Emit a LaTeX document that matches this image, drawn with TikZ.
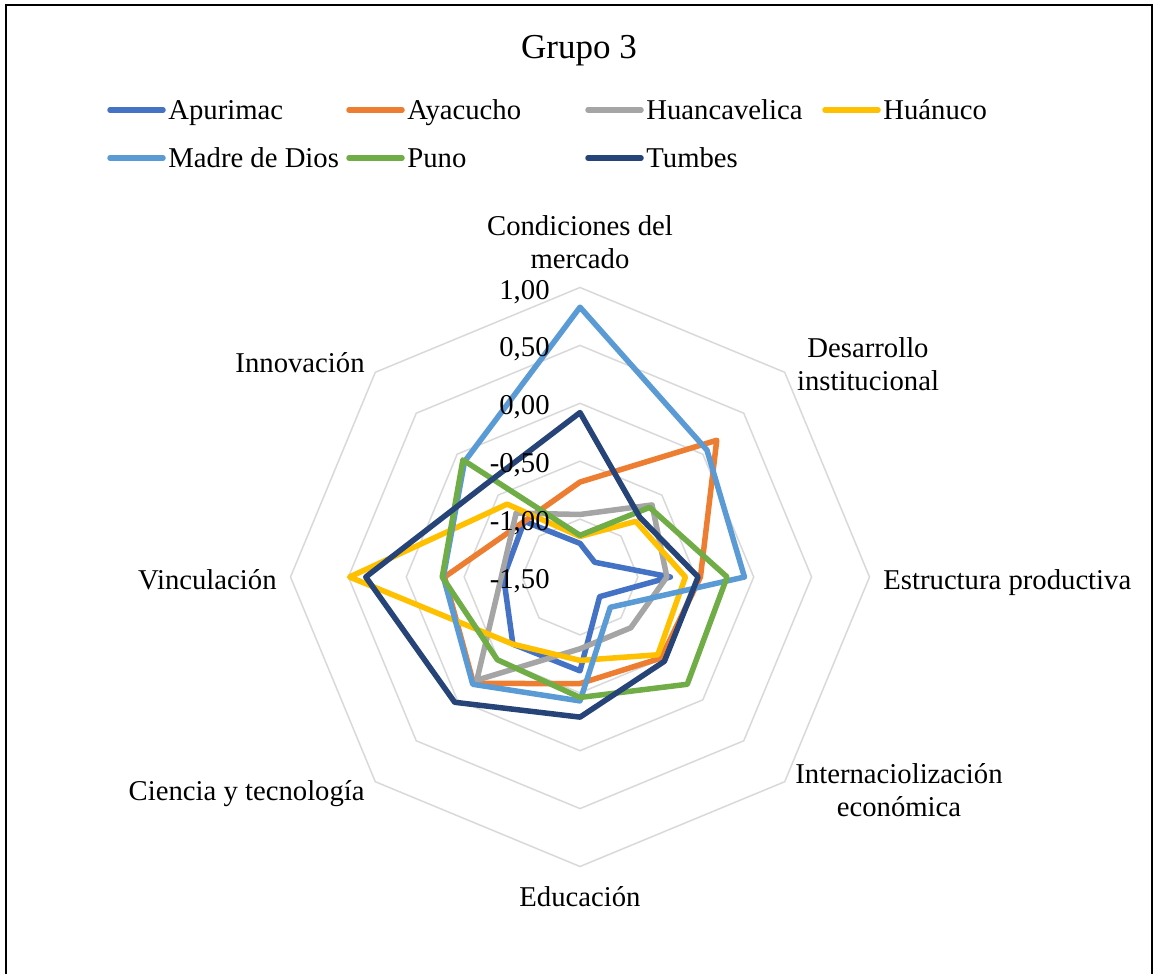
\documentclass[tikz,border=0pt]{standalone}
\usepackage{fontspec}
\setmainfont{Liberation Serif}
\definecolor{cApu}{HTML}{4472C4}
\definecolor{cAya}{HTML}{ED7D31}
\definecolor{cHua}{HTML}{A5A5A5}
\definecolor{cHuc}{HTML}{FFC000}
\definecolor{cMdd}{HTML}{5B9BD5}
\definecolor{cPun}{HTML}{70AD47}
\definecolor{cTum}{HTML}{264478}
\definecolor{cRing}{HTML}{D9D9D9}
\tikzset{
  frame/.style={draw=black, line width=1pt},
  ringline/.style={draw=cRing, line width=0.75pt},
  serie/.style={line width=2.75pt, line join=round, line cap=round},
  legline/.style={line width=2.75pt, line cap=round},
  legtxt/.style={anchor=base west, inner sep=0pt, font=\fontsize{14.35}{16.5}\selectfont},
  lbl/.style={inner sep=0pt, font=\fontsize{14.35}{16.5}\selectfont},
  ticklbl/.style={anchor=base east, inner sep=0pt, font=\fontsize{14.35}{16.5}\selectfont},
  titletxt/.style={anchor=base, inner sep=0pt, font=\fontsize{17.5}{20}\selectfont}
}
\begin{document}
\begin{tikzpicture}[x=0.5pt, y=-0.5pt, declare function={rr(\v)=(\v+1.5)*115.8;}]
\useasboundingbox (0,0) rectangle (1155,974);
\fill[white] (0,0) rectangle (1155,974);
% frame
\draw[frame] (6,974) -- (6,5) -- (1152,5) -- (1152,974);
% title
\node[titletxt] (title) at (579,59) {Grupo 3};
% legend
\coordinate (la1) at (110,110); \coordinate (lb1) at (163,110);
\coordinate (la2) at (349,110); \coordinate (lb2) at (402,110);
\coordinate (la3) at (588,110); \coordinate (lb3) at (641,110);
\coordinate (la4) at (825,110); \coordinate (lb4) at (878,110);
\coordinate (la5) at (110,158); \coordinate (lb5) at (163,158);
\coordinate (la6) at (349,158); \coordinate (lb6) at (402,158);
\coordinate (la7) at (588,158); \coordinate (lb7) at (641,158);
\draw[legline, cApu] (la1) -- (lb1);
\draw[legline, cAya] (la2) -- (lb2);
\draw[legline, cHua] (la3) -- (lb3);
\draw[legline, cHuc] (la4) -- (lb4);
\draw[legline, cMdd] (la5) -- (lb5);
\draw[legline, cPun] (la6) -- (lb6);
\draw[legline, cTum] (la7) -- (lb7);
\node[legtxt] (lt1) at (168,119.5) {Apurimac};
\node[legtxt] (lt2) at (407,119.5) {Ayacucho};
\node[legtxt] (lt3) at (646,119.5) {Huancavelica};
\node[legtxt] (lt4) at (883,119.5) {Huánuco};
\node[legtxt] (lt5) at (168,167.5) {Madre de Dios};
\node[legtxt] (lt6) at (407,167.5) {Puno};
\node[legtxt] (lt7) at (646,167.5) {Tumbes};
% radar chart
\begin{scope}[shift={(580,577)}, y=0.5pt]
  \foreach \k in {1,...,5} {
    \draw[ringline] (90:{\k*57.9}) -- (45:{\k*57.9}) -- (0:{\k*57.9}) -- (-45:{\k*57.9})
      -- (-90:{\k*57.9}) -- (-135:{\k*57.9}) -- (180:{\k*57.9}) -- (135:{\k*57.9}) -- cycle;
  }
  % Apurimac
  \draw[serie, cApu] (90:{rr(-1.21)}) -- (45:{rr(-1.32)}) -- (0:{rr(-0.72)}) -- (-45:{rr(-1.26)})
    -- (-90:{rr(-0.69)}) -- (-135:{rr(-0.68)}) -- (180:{rr(-0.84)}) -- (135:{rr(-0.82)}) -- cycle;
  % Ayacucho
  \draw[serie, cAya] (90:{rr(-0.68)}) -- (45:{rr(0.17)}) -- (0:{rr(-0.46)}) -- (-45:{rr(-0.51)})
    -- (-90:{rr(-0.58)}) -- (-135:{rr(-0.20)}) -- (180:{rr(-0.33)}) -- (135:{rr(-0.82)}) -- cycle;
  % Huancavelica
  \draw[serie, cHua] (90:{rr(-0.96)}) -- (45:{rr(-0.62)}) -- (0:{rr(-0.75)}) -- (-45:{rr(-0.88)})
    -- (-90:{rr(-0.88)}) -- (-135:{rr(-0.24)}) -- (180:{rr(-0.82)}) -- (135:{rr(-0.72)}) -- cycle;
  % Huanuco
  \draw[serie, cHuc] (90:{rr(-1.15)}) -- (45:{rr(-0.82)}) -- (0:{rr(-0.59)}) -- (-45:{rr(-0.55)})
    -- (-90:{rr(-0.78)}) -- (-135:{rr(-0.68)}) -- (180:{rr(0.49)}) -- (135:{rr(-0.61)}) -- cycle;
  % Madre de Dios
  \draw[serie, cMdd] (90:{rr(0.83)}) -- (45:{rr(0.05)}) -- (0:{rr(-0.08)}) -- (-45:{rr(-1.13)})
    -- (-90:{rr(-0.43)}) -- (-135:{rr(-0.19)}) -- (180:{rr(-0.32)}) -- (135:{rr(-0.09)}) -- cycle;
  % Puno
  \draw[serie, cPun] (90:{rr(-1.14)}) -- (45:{rr(-0.65)}) -- (0:{rr(-0.23)}) -- (-45:{rr(-0.19)})
    -- (-90:{rr(-0.46)}) -- (-135:{rr(-0.49)}) -- (180:{rr(-0.31)}) -- (135:{rr(-0.07)}) -- cycle;
  % Tumbes
  \draw[serie, cTum] (90:{rr(-0.08)}) -- (45:{rr(-0.77)}) -- (0:{rr(-0.48)}) -- (-45:{rr(-0.47)})
    -- (-90:{rr(-0.29)}) -- (-135:{rr(0.03)}) -- (180:{rr(0.35)}) -- (135:{rr(-0.36)}) -- cycle;
\end{scope}
% tick labels
\node[ticklbl] (tk0) at (550,588.5) {-1,50};
\node[ticklbl] (tk1) at (550,530.6) {-1,00};
\node[ticklbl] (tk2) at (550,472.7) {-0,50};
\node[ticklbl] (tk3) at (550,414.8) {0,00};
\node[ticklbl] (tk4) at (550,356.9) {0,50};
\node[ticklbl] (tk5) at (550,299.0) {1,00};
% axis labels
\node[lbl, anchor=north, align=center] (ax1) at (580,215.4) {Condiciones del\\mercado};
\node[lbl, anchor=north, align=center] (ax2) at (868,337.4) {Desarrollo\\institucional};
\node[lbl, anchor=base west] (ax3) at (883,589) {Estructura productiva};
\node[lbl, anchor=north, align=center] (ax4) at (899,763.4) {Internaciolización\\económica};
\node[lbl, anchor=base] (ax5) at (580,906) {Educación};
\node[lbl, anchor=base east] (ax6) at (365,800) {Ciencia y tecnología};
\node[lbl, anchor=base east] (ax7) at (277,589) {Vinculación};
\node[lbl, anchor=base east] (ax8) at (365,372) {Innovación};
\end{tikzpicture}
\end{document}
